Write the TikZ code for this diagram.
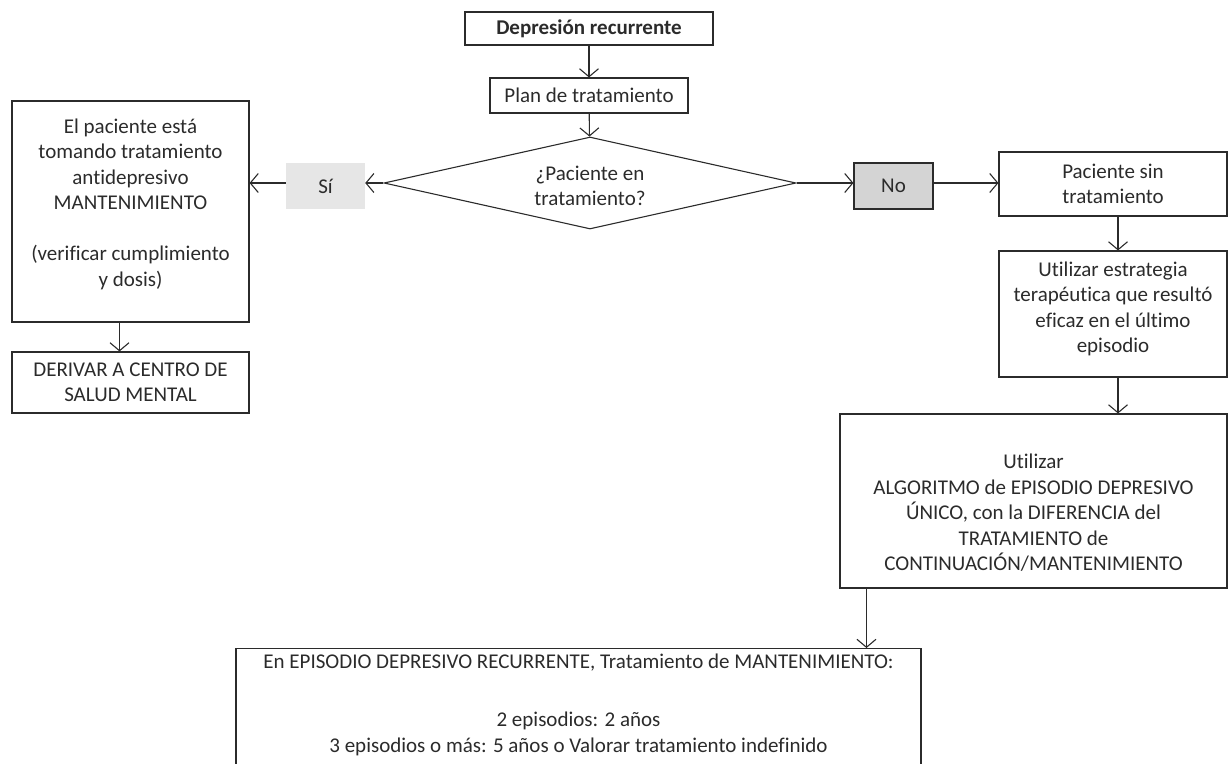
\documentclass[tikz,border=0pt]{standalone}
\usepackage{fontspec}
\setmainfont{Carlito}[Ligatures={NoCommon,NoDiscretionary,NoContextual}]
\usetikzlibrary{arrows.meta,shapes.geometric}

\definecolor{ink}{HTML}{2B2B2B}
\definecolor{siFill}{HTML}{E6E6E6}
\definecolor{noFill}{HTML}{D4D4D4}

\tikzset{
  x=1pt, y=-1pt,
  every node/.style={text=ink, font=\fontsize{21}{25.5}\selectfont},
  conn/.style={draw=ink, line width=1.1pt, -{Straight Barb[length=8pt,width=19pt,line width=1.1pt]}},
  stepbox/.style={draw=ink, line width=1.1pt, inner sep=0pt, align=center},
  sibox/.style={fill=siFill, inner sep=0pt, align=center},
  nobox/.style={fill=noFill, draw=ink, line width=1.1pt, inner sep=0pt, align=center},
  decision/.style={diamond, draw=ink, line width=1.1pt, aspect=4.5, inner sep=0pt,
    minimum width=412pt, minimum height=92pt, align=center},
  size/.style args={#1x#2}{minimum width=#1pt, minimum height=#2pt},
}

\begin{document}
\begin{tikzpicture}
\useasboundingbox (0,0) rectangle (1228,763);
\clip (0,0) rectangle (1228,763);

% main column
\node[stepbox, size=248x33] (dep) at (589,28.5) {\textbf{Depresión recurrente}};
\node[stepbox, size=198x35] (plan) at (589,95.5) {Plan de tratamiento};
\node[decision] (dia) at (590,183) {\rule{0pt}{20pt}¿Paciente en\\tratamiento?};

% yes branch
\node[sibox, size=79x46] (si) at (325.5,186) {Sí};
\node[stepbox, size=237x221] (lb) at (130.5,211.5)
  {El paciente está\\tomando tratamiento\\antidepresivo\\MANTENIMIENTO\\[25.5pt](verificar cumplimiento\\y dosis)\rule[-18pt]{0pt}{1pt}};
\node[stepbox, size=237x61] (der) at (130.5,382.5) {DERIVAR A CENTRO DE\\SALUD MENTAL};

% no branch
\node[nobox, size=79x46] (no) at (893.5,186) {No};
\node[stepbox, size=228x64] (pst) at (1113,184) {Paciente sin\\tratamiento};
\node[stepbox, size=228x126] (est) at (1113,314)
  {Utilizar estrategia\\terapéutica que resultó\\eficaz en el último\\episodio\rule[-14pt]{0pt}{1pt}};
\node[stepbox, size=387x174] (alg) at (1033.5,501)
  {\rule{0pt}{38pt}Utilizar\\ALGORITMO de EPISODIO DEPRESIVO\\ÚNICO, con la DIFERENCIA del\\TRATAMIENTO de\\CONTINUACIÓN/MANTENIMIENTO};

% maintenance box (continues below the page)
\node[stepbox, anchor=north, minimum width=685pt, inner ysep=5pt] (bot) at (578.5,648)
  {En EPISODIO DEPRESIVO RECURRENTE, Tratamiento de MANTENIMIENTO:\\[33pt]2 episodios: 2 años\\3 episodios o más: 5 años o Valorar tratamiento indefinido\\[60pt]\mbox{}};

% connectors
\draw[conn] (dep) -- (plan);
\draw[conn] (plan) -- (dia);
\draw[conn] (dia.west) -- (si.east |- dia.west);
\draw[conn] (si.west |- dia.west) -- (lb.east |- dia.west);
\draw[conn] ([xshift=-11pt]lb.south) -- ([xshift=-11pt]der.north);
\draw[conn] (dia.east) -- (no.west |- dia.east);
\draw[conn] (no.east |- dia.east) -- (pst.west |- dia.east);
\draw[conn] ([xshift=5pt]pst.south) -- ([xshift=5pt]est.north);
\draw[conn] ([xshift=5pt]est.south) -- ([xshift=5pt]est.south |- alg.north);
\draw[conn] ([xshift=27pt]alg.south west) -- ([xshift=27pt]alg.south west |- bot.north);
\end{tikzpicture}
\end{document}
